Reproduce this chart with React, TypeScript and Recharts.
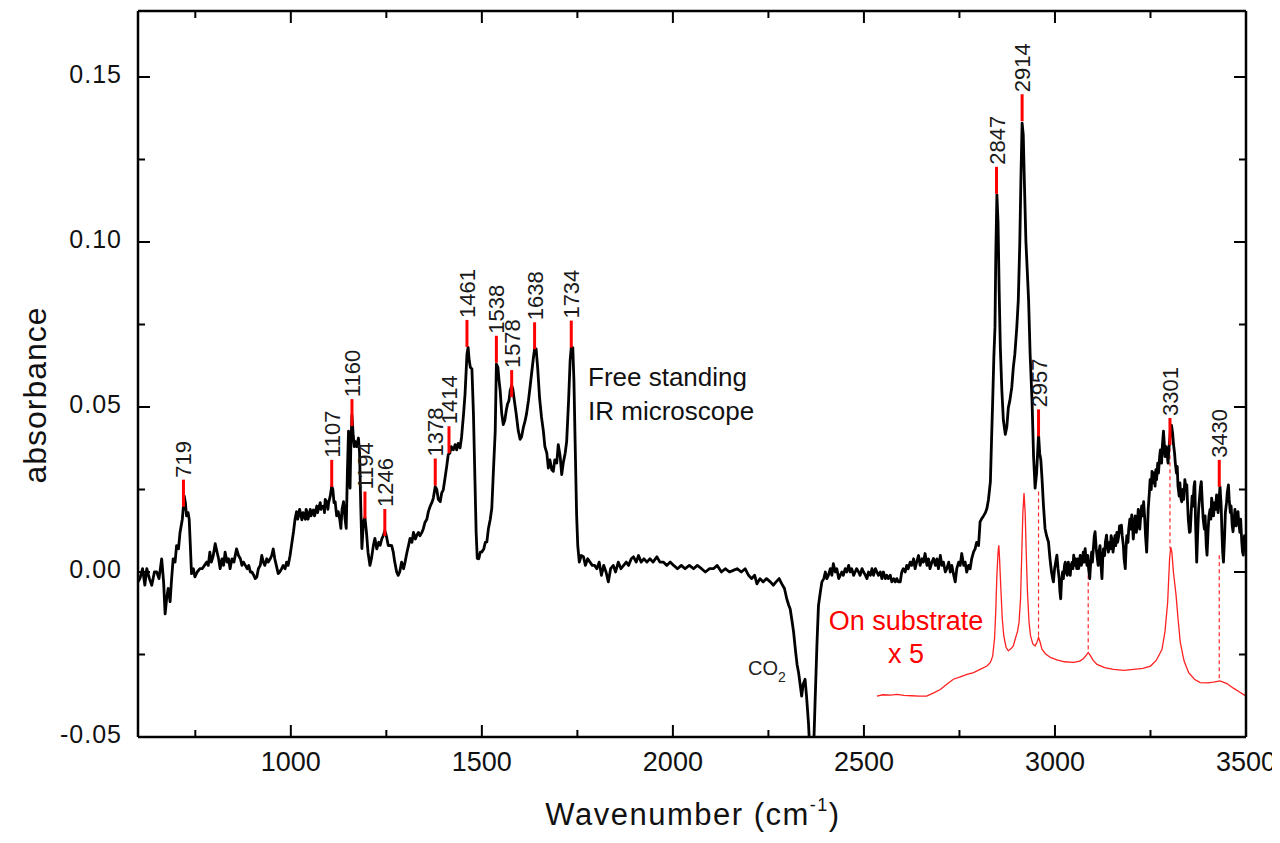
import { ComposedChart, Line, Scatter, XAxis, YAxis, ReferenceLine } from "recharts";

// free standing film, IR microscope: [wavenumber, absorbance]
const fsLow: [number, number][] = [
  [600, -0.003], [605, -0.002], [612, 0.001], [618, -0.004], [623, 0.001], [630, -0.002], [636, -0.004],
  [643, 0.0], [649, 0.0], [655, -0.002], [662, 0.004], [667, -0.003], [671, -0.0127], [675, -0.008],
  [679, -0.005], [684, -0.009], [688, -0.002], [692, 0.004], [697, 0.003], [701, 0.008], [706, 0.007],
  [710, 0.012], [716, 0.016], [721, 0.023], [724, 0.021], [727, 0.017], [731, 0.018], [734, 0.016],
  [737, 0.008], [740, -0.0005], [745, 0.001], [749, -0.0015], [755, 0.0], [762, 0.001], [768, 0.001],
  [774, 0.002], [780, 0.003], [784, 0.002], [788, 0.006], [792, 0.003], [797, 0.005], [802, 0.0086],
  [807, 0.006], [811, 0.004], [815, 0.001], [820, 0.004], [824, 0.002], [828, 0.006], [833, 0.003],
  [837, 0.004], [841, 0.001], [846, 0.004], [851, 0.003], [858, 0.007], [863, 0.005], [868, 0.004],
  [872, 0.002], [876, 0.003], [881, 0.002], [886, 0.001], [890, 0.002], [894, 0.0], [898, 0.0],
  [903, -0.001], [907, -0.002], [911, -0.0015], [915, 0.001], [920, 0.002], [924, 0.005], [928, 0.003],
  [932, 0.002], [937, 0.004], [941, 0.003], [946, 0.004], [950, 0.005], [954, 0.007], [958, 0.004],
  [962, 0.002], [967, -0.0005], [971, 0.0], [976, 0.001], [980, 0.002], [985, 0.001], [989, 0.003],
  [993, 0.002], [998, 0.005],
];

const fsFingerprint: [number, number][] = [
  [1003, 0.009], [1007, 0.0122], [1011, 0.016], [1015, 0.0183], [1018, 0.016], [1020, 0.017], [1023, 0.019],
  [1025, 0.018], [1029, 0.0158], [1032, 0.018], [1034, 0.017], [1038, 0.016], [1040, 0.019], [1042, 0.0183],
  [1045, 0.016], [1047, 0.017], [1051, 0.019], [1053, 0.017], [1055, 0.018], [1059, 0.0188], [1062, 0.017],
  [1064, 0.018], [1068, 0.02], [1070, 0.018], [1072, 0.019], [1077, 0.021], [1079, 0.019],
  [1081, 0.0198], [1086, 0.02], [1088, 0.018], [1090, 0.022], [1094, 0.0213], [1097, 0.019], [1099, 0.021],
  [1103, 0.0229], [1107, 0.026], [1110, 0.025], [1113, 0.021], [1116, 0.0213], [1120, 0.017], [1124, 0.0183],
  [1128, 0.016], [1131, 0.0132], [1134, 0.019], [1138, 0.0213], [1142, 0.016], [1145, 0.0132],
  [1148, 0.03], [1151, 0.0427], [1153, 0.03], [1155, 0.0254], [1157, 0.038], [1160, 0.0475],
  [1163, 0.042], [1166, 0.038], [1168, 0.0396], [1172, 0.038], [1177, 0.0406], [1180, 0.036],
  [1183, 0.02], [1186, 0.0071], [1190, 0.0152], [1194, 0.0165], [1198, 0.012], [1202, 0.006],
  [1207, 0.002], [1211, 0.004], [1216, 0.008], [1220, 0.0102], [1225, 0.007], [1230, 0.009],
  [1234, 0.0081], [1238, 0.01], [1242, 0.011], [1246, 0.0125], [1250, 0.011], [1255, 0.008],
  [1260, 0.0081], [1264, 0.008], [1268, 0.0061], [1272, 0.003], [1277, 0.0], [1281, -0.001],
  [1285, 0.0], [1290, 0.003], [1295, 0.001], [1299, 0.003], [1304, 0.006], [1308, 0.008],
  [1312, 0.0102], [1317, 0.009], [1321, 0.012], [1326, 0.01], [1330, 0.0112], [1334, 0.012],
  [1338, 0.011], [1343, 0.012], [1347, 0.0132], [1351, 0.015], [1356, 0.016], [1360, 0.0183],
  [1365, 0.02], [1369, 0.021], [1373, 0.0224], [1378, 0.0259], [1382, 0.025], [1386, 0.022],
  [1391, 0.0213], [1395, 0.024], [1399, 0.0249], [1403, 0.028], [1408, 0.032], [1412, 0.0356],
  [1416, 0.036], [1420, 0.038], [1425, 0.037], [1430, 0.0386], [1434, 0.037], [1438, 0.039],
  [1443, 0.0376], [1447, 0.041], [1452, 0.0478], [1456, 0.054], [1461, 0.066], [1464, 0.0681],
  [1467, 0.064], [1470, 0.062], [1474, 0.0615], [1478, 0.0478], [1482, 0.0274], [1485, 0.012],
  [1488, 0.0041], [1492, 0.004], [1496, 0.006], [1500, 0.0061], [1505, 0.007], [1509, 0.009],
  [1513, 0.0091], [1517, 0.013], [1522, 0.016], [1526, 0.0193], [1530, 0.03], [1535, 0.0427],
  [1538, 0.063], [1542, 0.062], [1545, 0.058], [1548, 0.0549], [1552, 0.048], [1556, 0.0447],
  [1560, 0.046], [1564, 0.049], [1567, 0.0508], [1571, 0.052], [1574, 0.0549], [1578, 0.0565],
  [1581, 0.0555], [1585, 0.052], [1590, 0.0478], [1595, 0.043], [1600, 0.0402], [1604, 0.041],
  [1609, 0.044], [1613, 0.0457], [1617, 0.048], [1622, 0.052], [1626, 0.0559], [1630, 0.06],
  [1635, 0.065], [1638, 0.0676], [1642, 0.0676], [1646, 0.062], [1651, 0.0528], [1656, 0.047],
  [1661, 0.0427], [1665, 0.038], [1670, 0.036], [1674, 0.0315], [1678, 0.034], [1683, 0.031],
  [1687, 0.0305], [1691, 0.034], [1696, 0.033], [1700, 0.0386], [1705, 0.035], [1709, 0.0295],
  [1713, 0.033], [1718, 0.036], [1722, 0.0396], [1727, 0.052], [1731, 0.064], [1734, 0.0681],
  [1738, 0.068], [1741, 0.0579], [1744, 0.04], [1748, 0.0173], [1751, 0.008], [1755, 0.003],
];

const fsMid: [number, number][] = [
  [1760, 0.005], [1766, 0.0046], [1771, 0.002], [1777, 0.004], [1783, 0.003], [1789, 0.002],
  [1795, 0.002], [1801, 0.001], [1807, 0.003], [1813, -0.001], [1819, 0.002], [1825, 0.0],
  [1831, -0.003], [1837, 0.001], [1844, 0.002], [1850, 0.0], [1857, 0.003], [1864, 0.001],
  [1871, 0.002], [1878, 0.003], [1884, 0.002], [1891, 0.004], [1897, 0.0046], [1904, 0.003],
  [1910, 0.005], [1917, 0.003], [1924, 0.004], [1932, 0.003], [1940, 0.004], [1948, 0.003],
  [1958, 0.0046], [1966, 0.003], [1975, 0.003], [1984, 0.002], [1993, 0.003], [2002, 0.002],
  [2012, 0.001], [2022, 0.002], [2032, 0.001], [2043, 0.002], [2054, 0.001], [2064, 0.002],
  [2075, 0.001], [2085, 0.0], [2096, 0.001], [2106, 0.001], [2116, 0.002], [2127, 0.0],
  [2137, 0.001], [2148, 0.0], [2158, 0.0005], [2168, 0.001], [2179, 0.0], [2189, 0.001],
  [2198, -0.001], [2206, -0.002], [2214, -0.001], [2220, -0.0036], [2228, -0.002], [2236, -0.003],
  [2245, -0.002], [2255, -0.003], [2263, -0.004], [2270, -0.003], [2278, -0.002], [2285, -0.0036],
  [2292, -0.005], [2298, -0.0081], [2303, -0.01], [2307, -0.0112], [2312, -0.015], [2316, -0.0183],
  [2321, -0.024], [2325, -0.028], [2329, -0.0305], [2333, -0.034], [2337, -0.0376], [2341, -0.034],
  [2346, -0.0325], [2350, -0.038], [2355, -0.046], [2359, -0.056], [2364, -0.062], [2368, -0.055],
  [2372, -0.04], [2377, -0.022], [2381, -0.0102], [2386, -0.006], [2390, -0.003], [2395, -0.002],
  [2399, 0.0], [2403, -0.002], [2407, -0.001], [2412, 0.001], [2416, -0.001], [2420, 0.0025],
  [2425, 0.0], [2429, 0.001], [2434, -0.002], [2438, -0.001], [2442, 0.0], [2446, -0.001],
  [2451, 0.001], [2455, 0.0], [2460, 0.002], [2464, 0.0], [2468, 0.001], [2473, -0.001],
  [2477, 0.0], [2481, 0.001], [2486, 0.0], [2490, -0.001], [2495, 0.001], [2499, 0.0],
  [2504, -0.001], [2508, -0.002], [2512, 0.0], [2517, -0.001], [2521, 0.001], [2525, -0.001],
  [2530, 0.001], [2534, 0.0], [2538, -0.001], [2543, 0.0], [2547, -0.002], [2551, 0.0],
  [2556, -0.002], [2560, -0.001], [2564, -0.002], [2569, -0.001], [2573, -0.003], [2578, -0.002],
  [2582, -0.003], [2586, -0.002], [2590, -0.003], [2595, -0.003], [2599, 0.0], [2603, 0.001],
  [2608, 0.0], [2612, 0.002], [2616, 0.001], [2621, 0.003], [2625, 0.002], [2630, 0.004],
  [2634, 0.001], [2638, 0.003], [2643, 0.005], [2647, 0.002], [2652, 0.004], [2656, 0.003],
  [2660, 0.0056], [2665, 0.002], [2669, 0.004], [2673, 0.001], [2678, 0.003], [2682, 0.0041],
  [2687, 0.002], [2691, 0.004], [2695, 0.001], [2700, 0.005], [2704, 0.002], [2708, 0.003],
  [2713, 0.0], [2717, 0.001], [2722, 0.003], [2726, 0.0], [2730, 0.002], [2735, -0.001],
  [2739, -0.003], [2743, 0.001], [2748, 0.003], [2752, 0.002], [2756, 0.0056], [2761, 0.002],
  [2765, 0.003], [2769, 0.0], [2774, 0.002], [2778, 0.001], [2782, 0.004], [2787, 0.0061],
  [2791, 0.007], [2795, 0.009],
];

const fsHigh: [number, number][] = [
  [2800, 0.008], [2804, 0.0152], [2809, 0.0163], [2813, 0.017], [2818, 0.018], [2822, 0.0193],
  [2826, 0.022], [2831, 0.0274], [2834, 0.04], [2837, 0.0518], [2840, 0.065], [2843, 0.0742],
  [2845, 0.095], [2848, 0.1143], [2851, 0.106], [2854, 0.085], [2857, 0.068], [2861, 0.055],
  [2865, 0.046], [2870, 0.0417], [2874, 0.044], [2878, 0.0498], [2882, 0.052], [2887, 0.056],
  [2891, 0.062], [2895, 0.066], [2900, 0.074], [2904, 0.0823], [2908, 0.1], [2911, 0.12],
  [2914, 0.136], [2917, 0.1325], [2920, 0.118], [2924, 0.1], [2928, 0.09], [2931, 0.0823],
  [2935, 0.066], [2940, 0.0518], [2944, 0.035], [2948, 0.0254], [2952, 0.03], [2957, 0.0417],
  [2960, 0.036], [2963, 0.034], [2966, 0.0285], [2970, 0.02], [2974, 0.0132], [2978, 0.011],
  [2983, 0.0091], [2987, 0.004],
];

const fsOH: [number, number][] = [
  [2991, 0.0], [2994, -0.002], [2996, -0.003], [2999, 0.001], [3002, 0.003], [3005, 0.0051], [3008, 0.001],
  [3011, -0.002], [3013, -0.006], [3015, -0.0081], [3017, -0.003], [3020, 0.0], [3022, -0.002], [3025, 0.002],
  [3027, 0.003], [3030, 0.0], [3032, -0.001], [3035, 0.003], [3037, 0.001], [3040, -0.001], [3042, 0.002],
  [3045, 0.003], [3047, 0.001], [3049, 0.0051], [3052, 0.002], [3054, 0.004], [3057, 0.001], [3059, 0.004],
  [3062, 0.001], [3064, 0.003], [3066, 0.005], [3069, 0.002], [3071, 0.003], [3074, 0.006], [3076, 0.003],
  [3079, 0.0071], [3081, 0.004], [3084, 0.002], [3086, 0.005], [3088, 0.001], [3091, -0.002], [3093, 0.002],
  [3096, 0.006], [3098, 0.003], [3101, 0.008], [3103, 0.011], [3105, 0.0122], [3108, 0.007], [3110, 0.005],
  [3113, 0.002], [3115, 0.006], [3118, 0.008], [3120, 0.003], [3123, -0.002], [3125, 0.004], [3127, 0.007],
  [3130, 0.005], [3132, 0.009], [3135, 0.0112], [3137, 0.008], [3140, 0.006], [3142, 0.009], [3145, 0.007],
  [3147, 0.011], [3149, 0.01], [3152, 0.006], [3154, 0.008], [3157, 0.011], [3159, 0.008], [3162, 0.012],
  [3164, 0.009], [3167, 0.011], [3169, 0.014], [3171, 0.012], [3174, 0.0142], [3176, 0.011], [3179, 0.008],
  [3181, 0.004], [3184, 0.001], [3186, 0.007], [3188, 0.011], [3191, 0.009], [3193, 0.013], [3196, 0.016],
  [3198, 0.013], [3201, 0.0173], [3203, 0.014], [3205, 0.01], [3208, 0.015], [3210, 0.017], [3213, 0.012],
  [3215, 0.014], [3218, 0.019], [3220, 0.016], [3222, 0.013], [3225, 0.018], [3227, 0.02], [3230, 0.017],
  [3232, 0.0213], [3235, 0.016], [3237, 0.011], [3240, 0.006], [3242, 0.012], [3244, 0.019], [3247, 0.024],
  [3249, 0.028], [3252, 0.025], [3254, 0.0305], [3257, 0.027], [3259, 0.03], [3262, 0.026], [3264, 0.031],
  [3266, 0.028], [3269, 0.033], [3271, 0.03], [3274, 0.035], [3276, 0.037], [3279, 0.033], [3281, 0.038],
  [3284, 0.0427], [3286, 0.039], [3288, 0.035], [3291, 0.038], [3293, 0.036], [3296, 0.033], [3298, 0.037],
  [3301, 0.041], [3303, 0.044], [3305, 0.0445], [3308, 0.042], [3310, 0.039], [3313, 0.036], [3315, 0.033],
  [3318, 0.03], [3320, 0.032], [3322, 0.026], [3325, 0.023], [3327, 0.027], [3330, 0.022], [3332, 0.0213],
  [3335, 0.025], [3337, 0.022], [3340, 0.028], [3342, 0.026], [3345, 0.0264], [3347, 0.021], [3349, 0.016],
  [3352, 0.012], [3354, 0.0122], [3357, 0.019], [3359, 0.023], [3361, 0.02], [3364, 0.026], [3366, 0.0274],
  [3368, 0.015], [3371, 0.003], [3373, 0.01], [3376, 0.019], [3378, 0.022], [3381, 0.026], [3383, 0.0274],
  [3386, 0.02], [3388, 0.016], [3391, 0.013], [3393, 0.017], [3396, 0.008], [3398, 0.0051], [3401, 0.013],
  [3403, 0.017], [3406, 0.019], [3408, 0.016], [3410, 0.0224], [3413, 0.02], [3415, 0.017], [3418, 0.021],
  [3420, 0.019], [3423, 0.0234], [3425, 0.02], [3427, 0.018], [3430, 0.023], [3432, 0.0259], [3435, 0.02],
  [3437, 0.012], [3439, 0.006], [3441, 0.003], [3444, 0.011], [3446, 0.018], [3449, 0.021], [3451, 0.024],
  [3454, 0.0264], [3456, 0.022], [3459, 0.018], [3461, 0.02], [3464, 0.014], [3466, 0.0122], [3469, 0.016],
  [3471, 0.019], [3474, 0.014], [3476, 0.017], [3479, 0.0183], [3481, 0.015], [3484, 0.012], [3486, 0.016],
  [3489, 0.009], [3491, 0.006], [3493, 0.0051], [3496, 0.011], [3498, 0.008], [3500, 0.0112],
];

// film on substrate, multiplied by 5 (plotted offset)
const onSubstrate: [number, number][] = [
  [2534, -0.0376], [2550, -0.0372], [2570, -0.0373], [2586, -0.0371], [2605, -0.0374], [2625, -0.0375],
  [2645, -0.0376], [2664, -0.0376], [2680, -0.0368], [2700, -0.0356], [2717, -0.034], [2734, -0.0325],
  [2752, -0.0318], [2770, -0.031], [2787, -0.0305], [2804, -0.0295], [2822, -0.0285], [2831, -0.0274],
  [2837, -0.0255], [2842, -0.02], [2845, -0.012], [2848, -0.001], [2851, 0.006], [2853, 0.0081],
  [2855, 0.004], [2858, -0.0041], [2862, -0.014], [2866, -0.0193], [2872, -0.0228], [2878, -0.0239],
  [2885, -0.0232], [2891, -0.0224], [2896, -0.0203], [2902, -0.018], [2906, -0.0152], [2910, -0.008],
  [2913, 0.005], [2916, 0.018], [2919, 0.0239], [2922, 0.018], [2925, 0.005], [2928, -0.006],
  [2932, -0.015], [2936, -0.0193], [2942, -0.0218], [2948, -0.0224], [2953, -0.0213], [2957, -0.0198],
  [2961, -0.0212], [2966, -0.0234], [2975, -0.0248], [2988, -0.0259], [3005, -0.0266], [3025, -0.0272],
  [3049, -0.0274], [3065, -0.027], [3075, -0.0262], [3082, -0.0252], [3087, -0.0244], [3092, -0.0252],
  [3100, -0.0268], [3110, -0.028], [3130, -0.029], [3153, -0.0295], [3180, -0.0298], [3206, -0.0295],
  [3230, -0.0292], [3250, -0.0285], [3265, -0.0268], [3280, -0.0235], [3288, -0.018], [3295, -0.0091],
  [3300, 0.004], [3303, 0.0075], [3306, 0.006], [3310, 0.0], [3317, -0.0071], [3322, -0.014],
  [3328, -0.0213], [3338, -0.027], [3350, -0.0305], [3365, -0.0325], [3380, -0.0335], [3400, -0.0336],
  [3415, -0.0334], [3432, -0.033], [3450, -0.0338], [3467, -0.0352], [3485, -0.0365], [3500, -0.0376],
];

// labelled bands: position and absorbance at the band top
const peakWn = [719, 1107, 1160, 1194, 1246, 1378, 1414, 1461, 1538, 1578, 1638, 1734, 2847, 2914, 2957, 3301, 3430];
const peakAbs = [0.0198, 0.0258, 0.0442, 0.0162, 0.0109, 0.0262, 0.036, 0.0682, 0.0634, 0.053, 0.0675, 0.068, 0.1146, 0.1366, 0.0411, 0.0385, 0.0258];

// dashed guides from substrate bands up to the free standing spectrum
const guideWn = [2957, 3087, 3301, 3430];
const guideTop = [0.0244, -0.001, 0.0396, 0.0051];
const guideBottom = [-0.0203, -0.0244, 0.0071, -0.0325];

const xMajor = [1000, 1500, 2000, 2500, 3000, 3500];
const xMinor = [750, 1250, 1750, 2250, 2750, 3250];
const yMajor = [-0.05, 0, 0.05, 0.1, 0.15];
const yMinor = [-0.025, 0.025, 0.075, 0.125];

const toRows = (pts: [number, number][]) => pts.map(([wn, abs]) => ({ wn, abs }));
const freeStanding = toRows([...fsLow, ...fsFingerprint, ...fsMid, ...fsHigh, ...fsOH]);
const substrate = toRows(onSubstrate);
const peaks = peakWn.map((wn, i) => ({ wn, abs: peakAbs[i] }));

const FONT = "'Liberation Sans', Arial, sans-serif";
const W = 1272;
const H = 835;
const MAJOR = 12;
const MINOR = 7;

const xTicks = [...xMajor, ...xMinor].sort((a, b) => a - b);
const yTicks = [...yMajor, ...yMinor].sort((a, b) => a - b);

function BottomTick(p: any) {
  const v = p.payload.value;
  const major = xMajor.includes(v);
  const ay = p.y - 14;
  return (
    <g>
      <line x1={p.x} x2={p.x} y1={ay} y2={ay - (major ? MAJOR : MINOR)} stroke="#000" strokeWidth={2} />
      {major && (
        <text x={p.x} y={p.y + 20} textAnchor="middle" fontSize={27} fontFamily={FONT} fill="#111">
          {v}
        </text>
      )}
    </g>
  );
}

function TopTick(p: any) {
  const major = xMajor.includes(p.payload.value);
  return <line x1={p.x} x2={p.x} y1={p.y} y2={p.y + (major ? MAJOR : MINOR)} stroke="#000" strokeWidth={2} />;
}

function LeftTick(p: any) {
  const v = p.payload.value;
  const major = yMajor.includes(v);
  const ax = p.x + 16;
  return (
    <g>
      <line x1={ax} x2={ax + (major ? MAJOR : MINOR)} y1={p.y} y2={p.y} stroke="#000" strokeWidth={2} />
      {major && (
        <text x={p.x} y={p.y + 6} textAnchor="end" fontSize={25} letterSpacing={1} fontFamily={FONT} fill="#111">
          {v.toFixed(2)}
        </text>
      )}
    </g>
  );
}

function RightTick(p: any) {
  const major = yMajor.includes(p.payload.value);
  return <line x1={p.x} x2={p.x - (major ? MAJOR : MINOR)} y1={p.y} y2={p.y} stroke="#000" strokeWidth={2} />;
}

function PeakMark(p: any) {
  const { cx, cy, payload } = p;
  return (
    <g>
      <line x1={cx} x2={cx} y1={cy} y2={cy - 27} stroke="#ff0000" strokeWidth={3} />
      <text
        transform={`translate(${cx + 8},${cy - 29}) rotate(-90)`}
        fontSize={22}
        fontFamily={FONT}
        fill="#1a1a1a"
      >
        {payload.wn}
      </text>
    </g>
  );
}

const axisLine = { stroke: "#000", strokeWidth: 2.5 };

export default function App() {
  return (
    <div style={{ position: "relative", width: W, height: H, background: "#fff" }}>
      <ComposedChart width={W} height={H} margin={{ top: 0, right: 0, bottom: 0, left: 0 }}>
        <XAxis
          xAxisId="b"
          type="number"
          dataKey="wn"
          domain={[600, 3500]}
          allowDataOverflow
          ticks={xTicks}
          interval={0}
          tickSize={0}
          tickMargin={14}
          tickLine={false}
          tick={(p: any) => <BottomTick {...p} />}
          axisLine={axisLine}
          height={106}
        />
        <XAxis
          xAxisId="t"
          orientation="top"
          type="number"
          dataKey="wn"
          domain={[600, 3500]}
          allowDataOverflow
          ticks={xTicks}
          interval={0}
          tickSize={0}
          tickMargin={0}
          tickLine={false}
          tick={(p: any) => <TopTick {...p} />}
          axisLine={axisLine}
          height={3}
        />
        <YAxis
          yAxisId="l"
          type="number"
          domain={[-0.05, 0.17]}
          allowDataOverflow
          ticks={yTicks}
          interval={0}
          tickSize={0}
          tickMargin={16}
          tickLine={false}
          tick={(p: any) => <LeftTick {...p} />}
          axisLine={axisLine}
          width={130}
        />
        <YAxis
          yAxisId="r"
          orientation="right"
          type="number"
          domain={[-0.05, 0.17]}
          allowDataOverflow
          ticks={yTicks}
          interval={0}
          tickSize={0}
          tickMargin={0}
          tickLine={false}
          tick={(p: any) => <RightTick {...p} />}
          axisLine={axisLine}
          width={34}
        />
        {guideWn.map((wn, i) => (
          <ReferenceLine
            key={wn}
            xAxisId="b"
            yAxisId="l"
            segment={[{ x: wn, y: guideTop[i] }, { x: wn, y: guideBottom[i] }]}
            stroke="#ff2a2a"
            strokeWidth={1.2}
            strokeDasharray="4 3"
          />
        ))}
        <Line
          data={substrate}
          xAxisId="t"
          yAxisId="r"
          dataKey="abs"
          stroke="#ff2020"
          strokeWidth={1.3}
          dot={false}
          isAnimationActive={false}
        />
        <Scatter
          data={peaks}
          xAxisId="b"
          yAxisId="l"
          dataKey="abs"
          shape={(p: any) => <PeakMark {...p} />}
          isAnimationActive={false}
        />
        <Line
          data={freeStanding}
          xAxisId="b"
          yAxisId="l"
          dataKey="abs"
          stroke="#000"
          strokeWidth={2.8}
          strokeLinejoin="round"
          dot={false}
          isAnimationActive={false}
        />
      </ComposedChart>
      <svg
        width={W}
        height={H}
        style={{ position: "absolute", left: 0, top: 0, pointerEvents: "none" }}
        fontFamily={FONT}
      >
        <text transform="translate(38,387) rotate(-90)" textAnchor="middle" fontSize={32} letterSpacing={1} fill="#111">
          absorbance
        </text>
        <text x={685} y={817} textAnchor="middle" fontSize={31} letterSpacing={1.5} fill="#111">
          Wavenumber (cm
          <tspan fontSize={18} dy={-14}>-1</tspan>
          <tspan dy={14}>)</tspan>
        </text>
        <text x={580} y={378} fontSize={26} fill="#111">Free standing</text>
        <text x={580} y={412} fontSize={26} fill="#111">IR microscope</text>
        <text x={898} y={622} textAnchor="middle" fontSize={27} fill="#ff0000">On substrate</text>
        <text x={898} y={655} textAnchor="middle" fontSize={27} fill="#ff0000">x 5</text>
        <text x={740} y={667} fontSize={20} fill="#222">
          CO<tspan fontSize={14} dy={7}>2</tspan>
        </text>
      </svg>
    </div>
  );
}
